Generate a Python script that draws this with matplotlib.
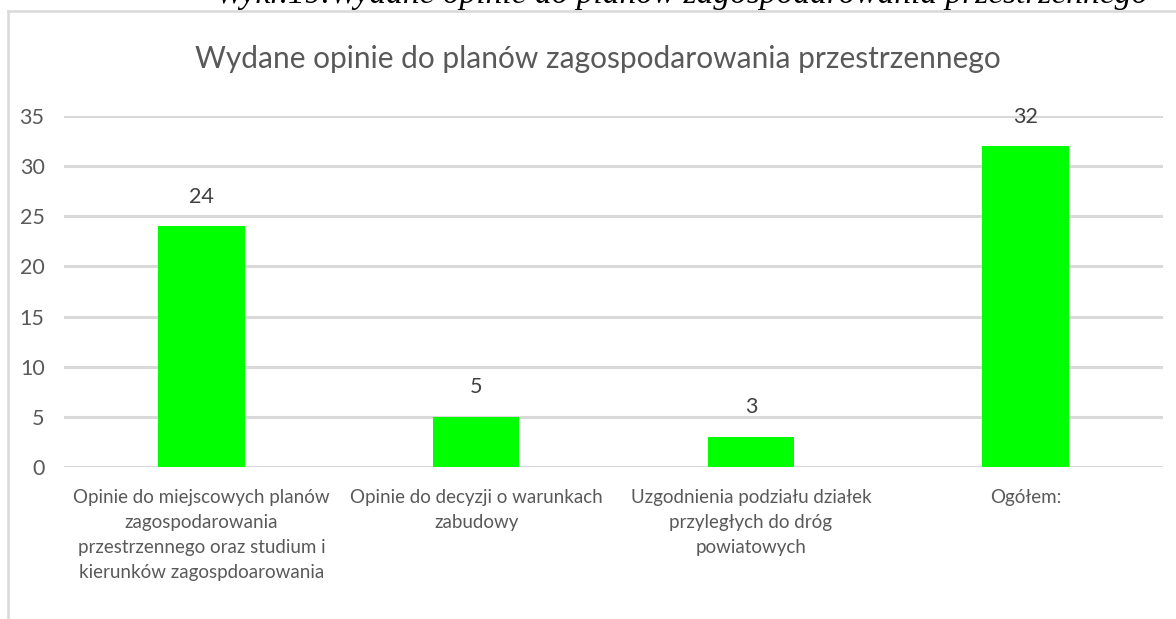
import matplotlib.pyplot as plt
from matplotlib.lines import Line2D

# Data
categories = [
    'Opinie do miejscowych planów\nzagospodarowania\nprzestrzennego oraz studium i\nkierunków zagospdoarowania',
    'Opinie do decyzji o warunkach\nzabudowy',
    'Uzgodnienia podziału działek\nprzyległych do dróg\npowiatowych',
    'Ogółem:',
]
values = [24, 5, 3, 32]
y_ticks = [0, 5, 10, 15, 20, 25, 30, 35]

title = 'Wydane opinie do planów zagospodarowania przestrzennego'
caption = 'Wykr.19.Wydane opinie do planów zagospodarowania przestrzennego'

W, H = 1176, 619
plt.rcParams['font.family'] = ['Lato', 'DejaVu Sans']
text_color = '#595959'

fig = plt.figure(figsize=(W / 100, H / 100), dpi=100)
ax = fig.add_axes([64 / W, 1 - 467 / H, (1163 - 64) / W, (467 - 116) / H])

x = range(len(values))
bars = ax.bar(x, values, width=0.314, color='#00ff00', zorder=3)
ax.set_xlim(-0.5, len(values) - 0.5)
ax.set_ylim(0, 35)

ax.set_yticks(y_ticks)
ax.set_xticks(list(x))
ax.set_xticklabels(categories, linespacing=1.56)
ax.tick_params(axis='y', length=0, pad=14, labelsize=15.5, labelcolor=text_color)
ax.tick_params(axis='x', length=0, pad=16, labelsize=13.5, labelcolor=text_color)
ax.grid(axis='y', color='#d9d9d9', linewidth=2.2, zorder=0)
for s in ax.spines.values():
    s.set_visible(False)

# value labels
for b, v in zip(bars, values):
    ax.annotate(str(v), (b.get_x() + b.get_width() / 2, v), xytext=(0, 14),
                textcoords='offset points', ha='center', va='bottom',
                fontsize=15.5, color='#404040')

fig.text(598 / W, 1 - 59 / H, title, ha='center', va='center',
         fontsize=21.5, color=text_color)

# chart frame (left and top edges visible)
fig.add_artist(Line2D([8 / W, 8 / W], [0, 1 - 11 / H], transform=fig.transFigure,
                      color='#d9d9d9', linewidth=1.8))
fig.add_artist(Line2D([8 / W, 1], [1 - 11 / H, 1 - 11 / H], transform=fig.transFigure,
                      color='#d9d9d9', linewidth=1.8))

# caption above the chart, cut off by the page edge
fig.text(682 / W, 1 - 3.5 / H, caption, ha='center', va='baseline',
         fontsize=24, style='italic', family=['Liberation Serif', 'DejaVu Serif'],
         color='black')

plt.savefig('out.png', dpi=100)
plt.close()
